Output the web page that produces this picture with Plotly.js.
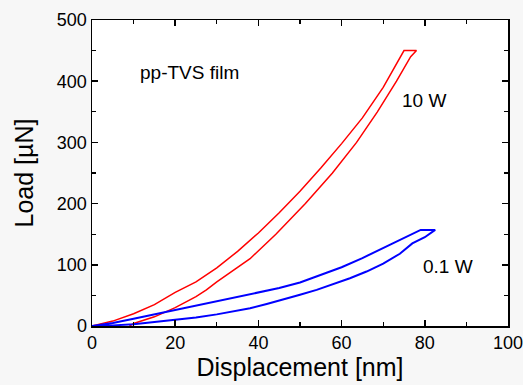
<!DOCTYPE html>
<html>
<head>
<meta charset="utf-8">
<script src="https://cdn.plot.ly/plotly-3.0.1.min.js"></script>
<style>html,body{margin:0;padding:0;background:#f7f7f7;}#chart{width:523px;height:385px;}</style>
</head>
<body>
<div id="chart"></div>
<script>
// 10 W: loading, hold, unloading
var red_x = [0, 5, 10, 15, 20, 25, 30, 35, 40, 45, 50, 55, 60, 65, 70, 75,
             78, 76.6, 73.2, 68.6, 63.6, 57.8, 51.3, 44.2, 38, 34.8, 30, 27.5, 25, 20, 15, 10, 9];
var red_y = [0, 8, 20, 35, 55, 72, 95, 122, 152, 185, 220, 258, 298, 340, 390, 450,
             450, 440, 400, 350, 300, 250, 200, 150, 110, 95, 72, 59, 48, 30, 15, 4, 0];
// 0.1 W: loading, hold, unloading
var blue_x = [0, 5, 10, 15, 20, 25, 30, 35, 40, 45, 50, 55, 60, 65, 70, 75, 79,
              82.5, 80, 77, 74, 70, 66, 62, 58, 54, 50, 46, 42, 38, 34, 30, 25, 20, 15, 10, 5, 2];
var blue_y = [0, 5, 12, 19, 26, 33, 40, 47, 54, 62, 71, 83, 96, 111, 127, 143, 157,
              157, 145, 135, 118, 102, 89, 78, 68, 59, 51, 43, 36, 29, 24, 19, 14, 10, 6, 3, 1, 0];
var labels = ['pp-TVS film', '10 W', '0.1 W'];
var xTicks = [0, 20, 40, 60, 80, 100];
var yTicks = [0, 100, 200, 300, 400, 500];

var font = 'Liberation Sans, Arial, sans-serif';
var traces = [
  {x: red_x, y: red_y, mode: 'lines', line: {color: '#ff0000', width: 1.5}, hoverinfo: 'skip'},
  {x: blue_x, y: blue_y, mode: 'lines', line: {color: '#0000ff', width: 2}, hoverinfo: 'skip'}
];
var axisCommon = {
  showgrid: false, zeroline: false, showline: true, linecolor: '#000', linewidth: 1.5,
  mirror: 'ticks', ticks: 'inside', ticklen: 6, tickwidth: 1.5, tickcolor: '#000',
  tickfont: {family: font, size: 18, color: '#000'}, tickmode: 'array',
  ticklabeloverflow: 'allow', automargin: false
};
var layout = {
  width: 523, height: 385,
  margin: {l: 92, r: 15, t: 20, b: 59},
  paper_bgcolor: '#f7f7f7', plot_bgcolor: '#ffffff',
  showlegend: false,
  xaxis: Object.assign({}, axisCommon, {
    range: [0, 100], tickvals: xTicks, ticktext: xTicks.map(String),
    minor: {tickvals: [10, 30, 50, 70, 90], ticks: 'inside', ticklen: 4, tickwidth: 1.2, tickcolor: '#000'},
    title: {text: 'Displacement [nm]', font: {family: font, size: 25, color: '#000'}, standoff: 5}
  }),
  yaxis: Object.assign({}, axisCommon, {
    range: [0, 500], tickvals: yTicks, ticktext: yTicks.map(String),
    minor: {tickvals: [50, 150, 250, 350, 450], ticks: 'inside', ticklen: 4, tickwidth: 1.2, tickcolor: '#000'},
    title: {text: 'Load [\u00b5N]', font: {family: font, size: 25, color: '#000'}, standoff: 16}
  }),
  annotations: [
    {x: 11.1, y: 415, xanchor: 'left', yanchor: 'middle', text: labels[0], showarrow: false, font: {family: font, size: 19, color: '#000'}},
    {x: 79.8, y: 369, xanchor: 'center', yanchor: 'middle', text: labels[1], showarrow: false, font: {family: font, size: 19, color: '#000'}},
    {x: 85.6, y: 97, xanchor: 'center', yanchor: 'middle', text: labels[2], showarrow: false, font: {family: font, size: 19, color: '#000'}}
  ]
};
Plotly.newPlot('chart', traces, layout, {staticPlot: true, displayModeBar: false});
</script>
</body>
</html>
